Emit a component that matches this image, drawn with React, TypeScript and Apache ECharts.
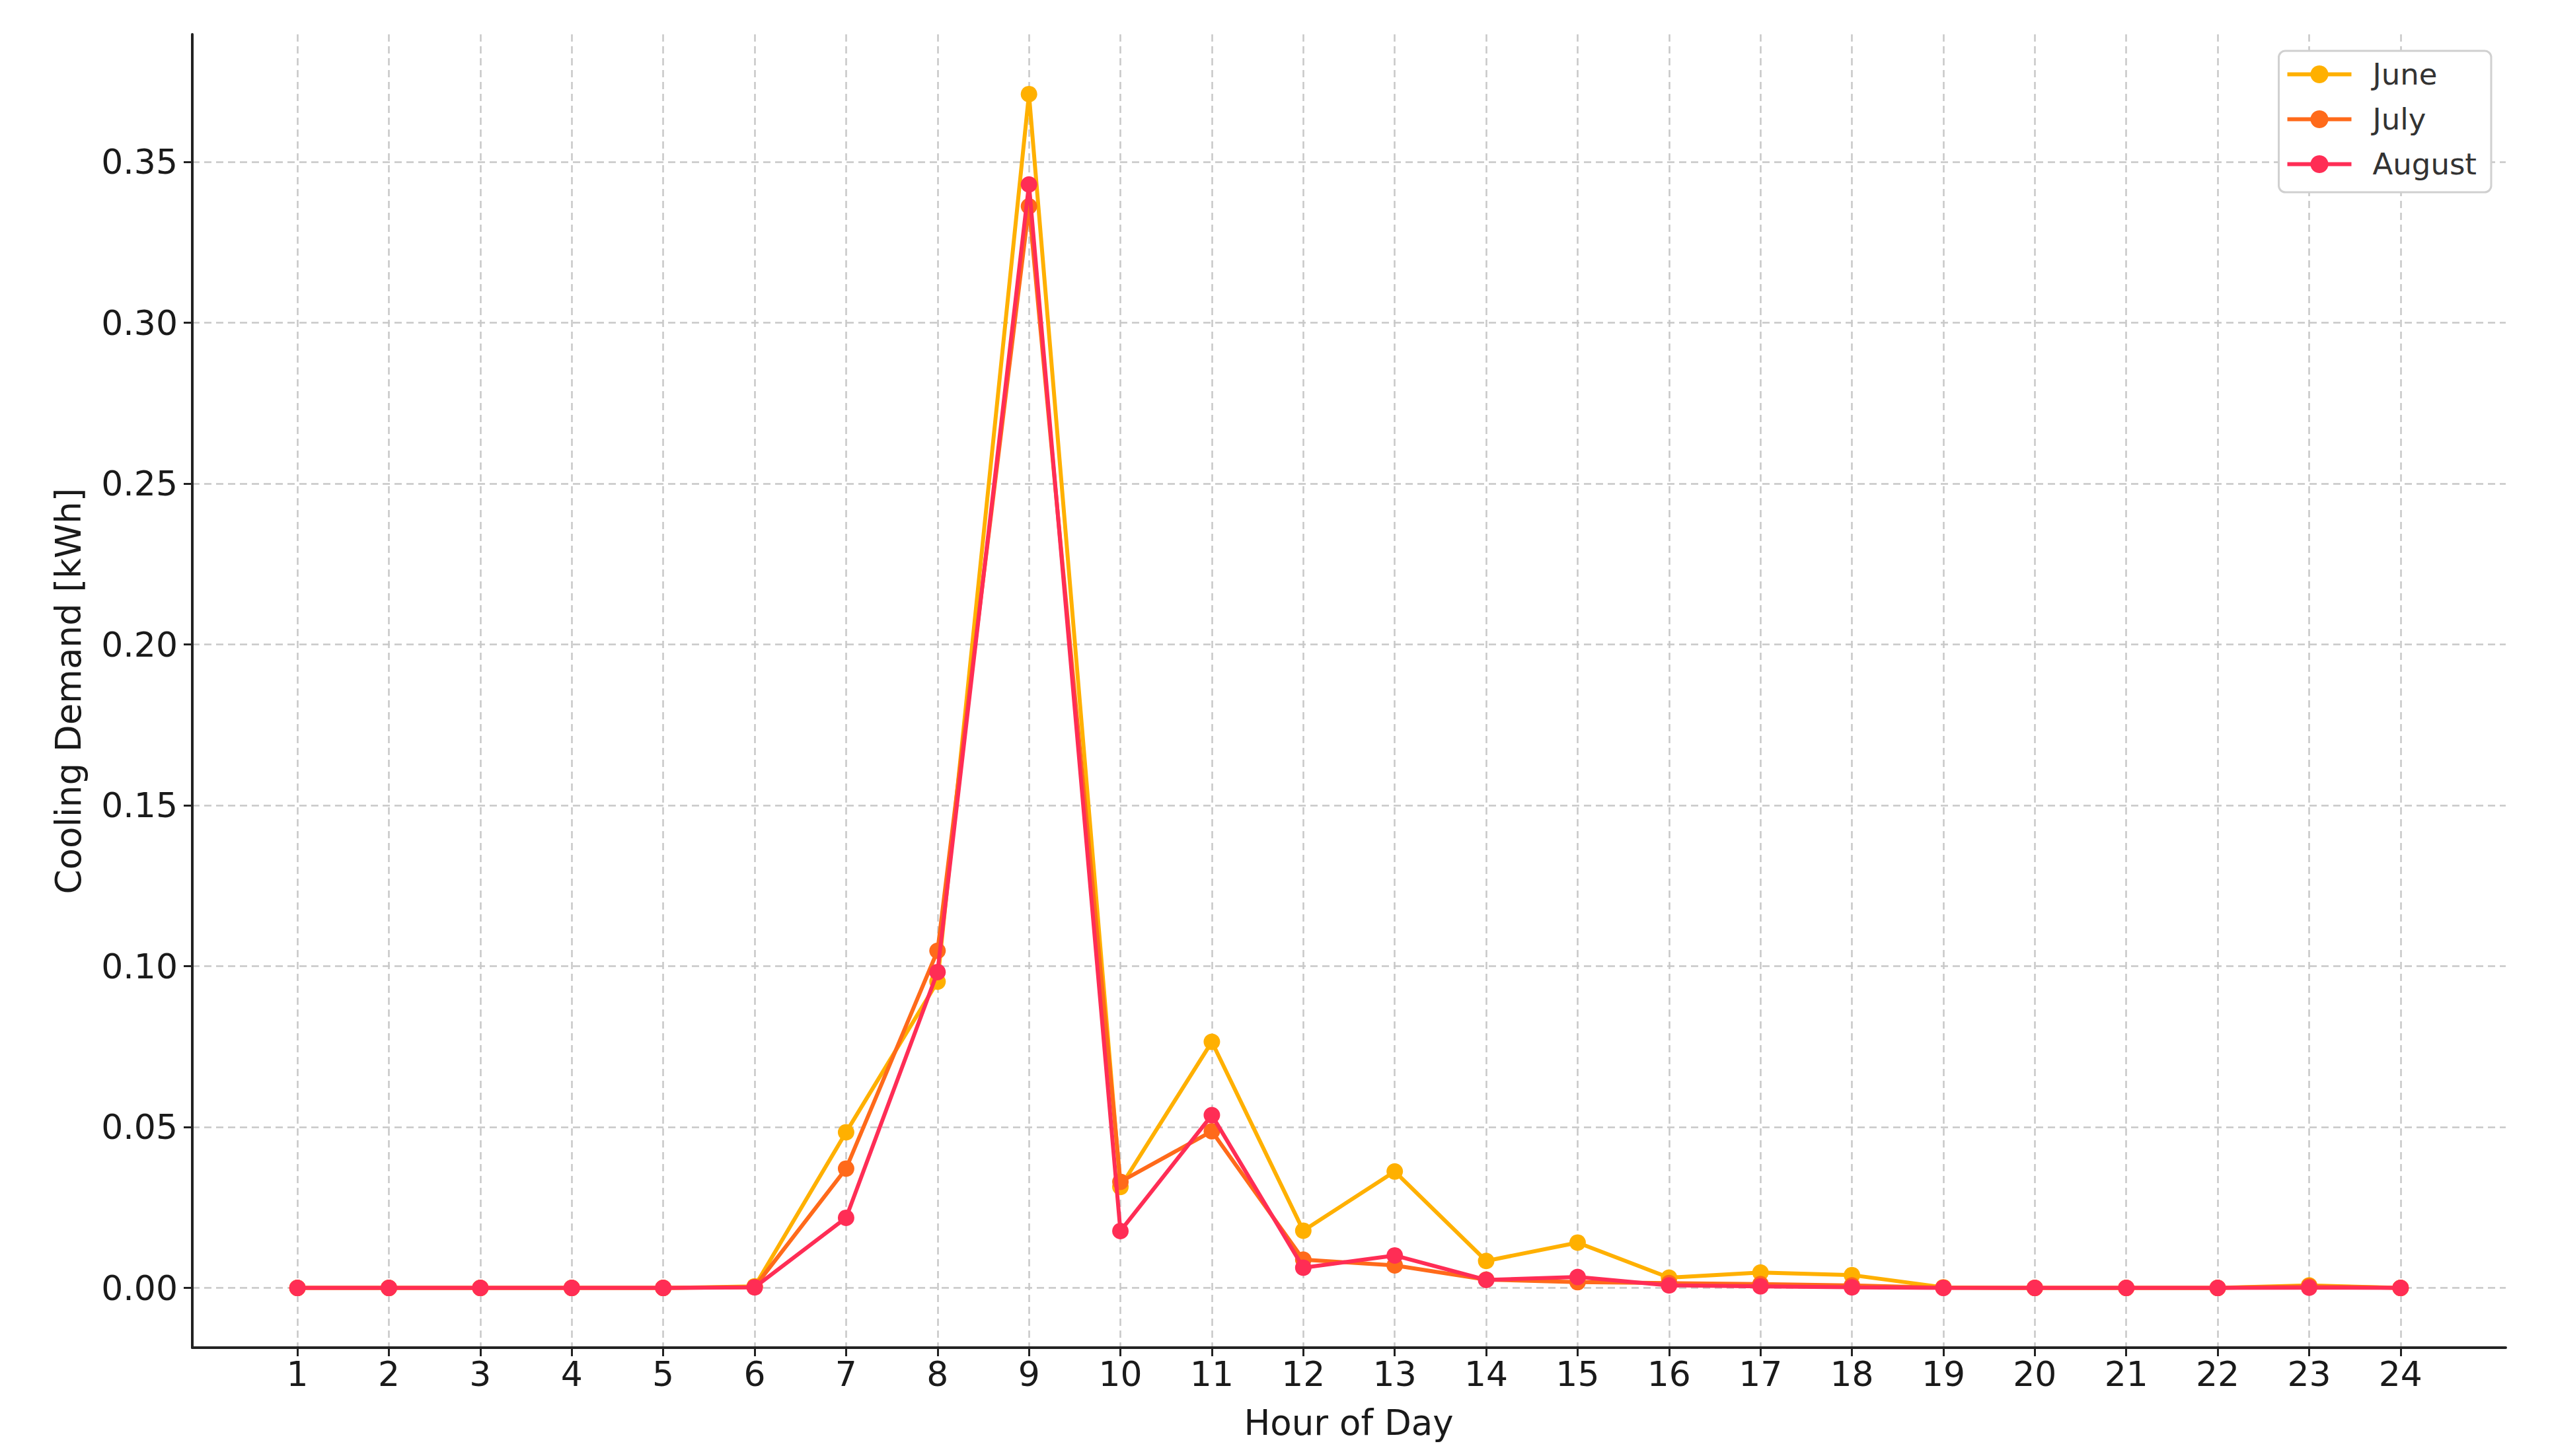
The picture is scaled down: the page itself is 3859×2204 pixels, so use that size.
import React, { useEffect, useRef } from "react";
import * as echarts from "echarts";

const hours = [1, 2, 3, 4, 5, 6, 7, 8, 9, 10, 11, 12, 13, 14, 15, 16, 17, 18, 19, 20, 21, 22, 23, 24];
const june = [0, 0, 0, 0, 0, 0.0005, 0.0484, 0.0952, 0.3711, 0.0314, 0.0765, 0.0178, 0.0362, 0.0084, 0.0141, 0.0032, 0.0048, 0.004, 0.0002, 0, 0, 0, 0.0008, 0];
const july = [0, 0, 0, 0, 0, 0.0003, 0.0371, 0.1048, 0.3362, 0.033, 0.0487, 0.0088, 0.007, 0.0026, 0.0018, 0.0015, 0.0012, 0.0008, 0.0001, 0, 0, 0, 0.0005, 0];
const august = [0, 0, 0, 0, 0, 0.0002, 0.0218, 0.0982, 0.343, 0.0177, 0.0537, 0.0063, 0.0101, 0.0025, 0.0034, 0.0008, 0.0005, 0.0002, 0, 0, 0, 0, 0.0001, 0];
const yTicks = [0, 0.05, 0.1, 0.15, 0.2, 0.25, 0.3, 0.35];
const seriesNames = ["June", "July", "August"];
const seriesColors = ["#FFB000", "#FF6A1A", "#FF2D55"];

const FONT = "DejaVu Sans";

export default function App() {
  const ref = useRef<HTMLDivElement>(null);
  useEffect(() => {
    if (!ref.current) return;
    const chart = echarts.init(ref.current, undefined, { renderer: "svg" });
    const datasets = [june, july, august];
    chart.setOption({
      animation: false,
      backgroundColor: "#ffffff",
      textStyle: { fontFamily: FONT },
      grid: { left: 291, right: 67, top: 52, bottom: 164, containLabel: false },
      xAxis: {
        type: "value",
        min: -0.15,
        max: 25.15,
        axisLine: { show: true, onZero: false, lineStyle: { color: "#222", width: 4 } },
        axisTick: { show: true, customValues: hours, length: 13, inside: false, lineStyle: { color: "#222", width: 3 } },
        axisLabel: { customValues: hours, color: "#1a1a1a", fontSize: 52, fontFamily: FONT, margin: 14 },
        splitLine: { show: true, lineStyle: { color: "#c8c8c8", width: 2.5, type: [11, 7] } },
      },
      yAxis: {
        type: "value",
        min: -0.01856,
        max: 0.38966,
        axisLine: { show: true, onZero: false, lineStyle: { color: "#222", width: 4 } },
        axisTick: { show: true, customValues: yTicks, length: 13, inside: false, lineStyle: { color: "#222", width: 3 } },
        axisLabel: {
          customValues: yTicks,
          color: "#1a1a1a",
          fontSize: 52,
          fontFamily: FONT,
          margin: 22,
          formatter: (v: number) => v.toFixed(2),
        },
        splitLine: { show: true, lineStyle: { color: "#c8c8c8", width: 2.5, type: [11, 7] } },
      },
      legend: {
        show: true,
        orient: "vertical",
        right: 3859 - 3770,
        top: 77,
        data: seriesNames,
        itemWidth: 97,
        itemHeight: 34,
        itemGap: 23,
        backgroundColor: "#ffffff",
        borderColor: "#d0d0d0",
        borderWidth: 3,
        borderRadius: 10,
        padding: [13, 22, 20, 10],
        lineStyle: { width: 6 },
        textStyle: { fontSize: 45, fontFamily: FONT, color: "#333", lineHeight: 44, padding: [0, 0, 0, 27] },
      },
      graphic: [
        {
          type: "text",
          x: 103,
          y: 1046,
          rotation: Math.PI / 2,
          style: { text: "Cooling Demand [kWh]", fontSize: 53, fontFamily: FONT, fill: "#1a1a1a", align: "center", verticalAlign: "middle" },
        },
        {
          type: "text",
          x: 2041,
          y: 2153,
          style: { text: "Hour of Day", fontSize: 53, fontFamily: FONT, fill: "#1a1a1a", align: "center", verticalAlign: "middle" },
        },
      ],
      series: datasets.map((d, i) => ({
        name: seriesNames[i],
        type: "line",
        data: d.map((v, j) => [hours[j], v]),
        symbol: "circle",
        symbolSize: 25,
        showSymbol: true,
        color: seriesColors[i],
        lineStyle: { width: 6, color: seriesColors[i] },
        itemStyle: { color: seriesColors[i] },
        emphasis: { disabled: true },
        z: 2 + i,
      })),
    });
    return () => chart.dispose();
  }, []);
  return <div ref={ref} style={{ position: "absolute", left: 0, top: 0, width: 3859, height: 2204 }} />;
}
